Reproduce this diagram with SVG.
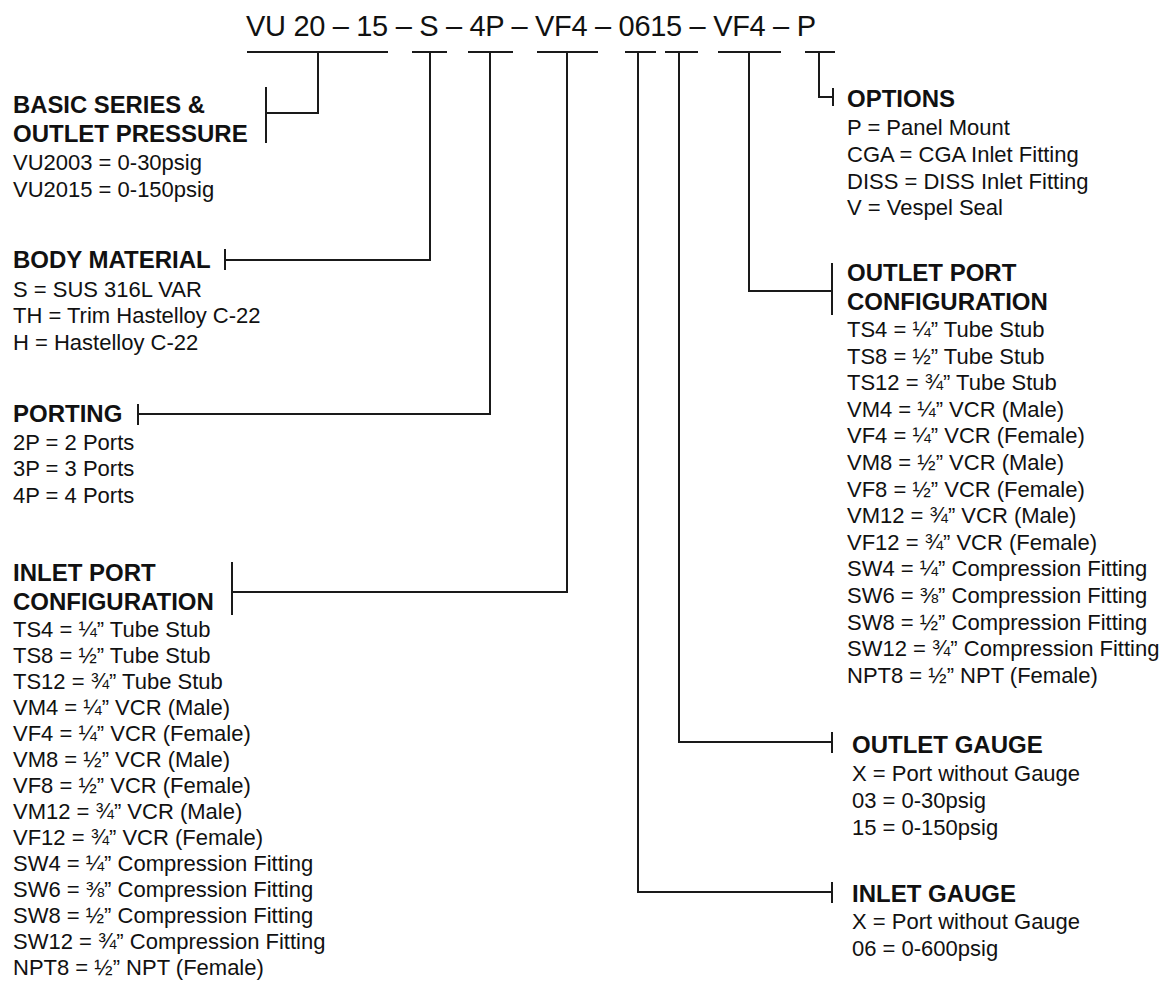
<svg xmlns="http://www.w3.org/2000/svg" width="1162" height="982" viewBox="0 0 1162 982">
<style>
text{font-family:"Liberation Sans",Arial,Helvetica,sans-serif;fill:#111}
.t{font-size:29px}
.h{font-size:24px;font-weight:bold}
.b{font-size:22px}
.c line,.c polyline{stroke:#1a1a1a;stroke-width:2;fill:none}
</style>
<rect width="1162" height="982" fill="#fff"/>
<g id="title"><text class="t" x="246" y="36" textLength="570" lengthAdjust="spacing">VU 20 – 15 – S – 4P – VF4 – 0615 – VF4 – P</text></g>
<g id="connectors" class="c">
<line x1="247" y1="52" x2="388" y2="52"/>
<polyline points="318,52 318,113 266,113"/>
<line x1="266" y1="87" x2="266" y2="143"/>
<line x1="412" y1="52" x2="447" y2="52"/>
<polyline points="430,52 430,260 225,260"/>
<line x1="225" y1="249" x2="225" y2="270"/>
<line x1="468" y1="52" x2="513" y2="52"/>
<polyline points="490,52 490,414 138,414"/>
<line x1="138" y1="404" x2="138" y2="425"/>
<line x1="537" y1="52" x2="598" y2="52"/>
<polyline points="567,52 567,592 232,592"/>
<line x1="232" y1="562" x2="232" y2="615"/>
<line x1="625" y1="52" x2="656" y2="52"/>
<polyline points="638,52 638,892 832,892"/>
<line x1="832" y1="882" x2="832" y2="903"/>
<line x1="665" y1="52" x2="698" y2="52"/>
<polyline points="679,52 679,742 832,742"/>
<line x1="832" y1="732" x2="832" y2="753"/>
<line x1="718" y1="52" x2="781" y2="52"/>
<polyline points="749,52 749,291 832,291"/>
<line x1="832" y1="263" x2="832" y2="315"/>
<line x1="805" y1="52" x2="835" y2="52"/>
<polyline points="819,52 819,97 833,97"/>
<line x1="833" y1="88" x2="833" y2="106"/>
</g>
<g id="basic-series">
<text class="h" x="13" y="113" textLength="192" lengthAdjust="spacingAndGlyphs">BASIC SERIES &amp;</text>
<text class="h" x="13" y="142">OUTLET PRESSURE</text>
<text class="b" x="13" y="170">VU2003 = 0-30psig</text>
<text class="b" x="13" y="197">VU2015 = 0-150psig</text>
</g>
<g id="body-material">
<text class="h" x="13" y="268">BODY MATERIAL</text>
<text class="b" x="13" y="297">S = SUS 316L VAR</text>
<text class="b" x="13" y="323">TH = Trim Hastelloy C-22</text>
<text class="b" x="13" y="350">H = Hastelloy C-22</text>
</g>
<g id="porting">
<text class="h" x="13" y="422">PORTING</text>
<text class="b" x="13" y="450">2P = 2 Ports</text>
<text class="b" x="13" y="476">3P = 3 Ports</text>
<text class="b" x="13" y="503">4P = 4 Ports</text>
</g>
<g id="inlet-port">
<text class="h" x="13" y="581">INLET PORT</text>
<text class="h" x="13" y="610">CONFIGURATION</text>
<text class="b" x="13" y="637">TS4 = ¼” Tube Stub</text>
<text class="b" x="13" y="663">TS8 = ½” Tube Stub</text>
<text class="b" x="13" y="689">TS12 = ¾” Tube Stub</text>
<text class="b" x="13" y="715">VM4 = ¼” VCR (Male)</text>
<text class="b" x="13" y="741">VF4 = ¼” VCR (Female)</text>
<text class="b" x="13" y="767">VM8 = ½” VCR (Male)</text>
<text class="b" x="13" y="793">VF8 = ½” VCR (Female)</text>
<text class="b" x="13" y="819">VM12 = ¾” VCR (Male)</text>
<text class="b" x="13" y="845">VF12 = ¾” VCR (Female)</text>
<text class="b" x="13" y="871">SW4 = ¼” Compression Fitting</text>
<text class="b" x="13" y="897">SW6 = ⅜” Compression Fitting</text>
<text class="b" x="13" y="923">SW8 = ½” Compression Fitting</text>
<text class="b" x="13" y="949">SW12 = ¾” Compression Fitting</text>
<text class="b" x="13" y="975">NPT8 = ½” NPT (Female)</text>
</g>
<g id="options">
<text class="h" x="847" y="107">OPTIONS</text>
<text class="b" x="847" y="135">P = Panel Mount</text>
<text class="b" x="847" y="162">CGA = CGA Inlet Fitting</text>
<text class="b" x="847" y="189">DISS = DISS Inlet Fitting</text>
<text class="b" x="847" y="215">V = Vespel Seal</text>
</g>
<g id="outlet-port">
<text class="h" x="847" y="281">OUTLET PORT</text>
<text class="h" x="847" y="310">CONFIGURATION</text>
<text class="b" x="847" y="337">TS4 = ¼” Tube Stub</text>
<text class="b" x="847" y="363.6">TS8 = ½” Tube Stub</text>
<text class="b" x="847" y="390.2">TS12 = ¾” Tube Stub</text>
<text class="b" x="847" y="416.8">VM4 = ¼” VCR (Male)</text>
<text class="b" x="847" y="443.4">VF4 = ¼” VCR (Female)</text>
<text class="b" x="847" y="470">VM8 = ½” VCR (Male)</text>
<text class="b" x="847" y="496.6">VF8 = ½” VCR (Female)</text>
<text class="b" x="847" y="523.2">VM12 = ¾” VCR (Male)</text>
<text class="b" x="847" y="549.8">VF12 = ¾” VCR (Female)</text>
<text class="b" x="847" y="576.4">SW4 = ¼” Compression Fitting</text>
<text class="b" x="847" y="603">SW6 = ⅜” Compression Fitting</text>
<text class="b" x="847" y="629.6">SW8 = ½” Compression Fitting</text>
<text class="b" x="847" y="656.2">SW12 = ¾” Compression Fitting</text>
<text class="b" x="847" y="682.8">NPT8 = ½” NPT (Female)</text>
</g>
<g id="outlet-gauge">
<text class="h" x="852" y="753">OUTLET GAUGE</text>
<text class="b" x="852" y="781">X = Port without Gauge</text>
<text class="b" x="852" y="808">03 = 0-30psig</text>
<text class="b" x="852" y="835">15 = 0-150psig</text>
</g>
<g id="inlet-gauge">
<text class="h" x="852" y="902">INLET GAUGE</text>
<text class="b" x="852" y="929">X = Port without Gauge</text>
<text class="b" x="852" y="956">06 = 0-600psig</text>
</g>
</svg>
